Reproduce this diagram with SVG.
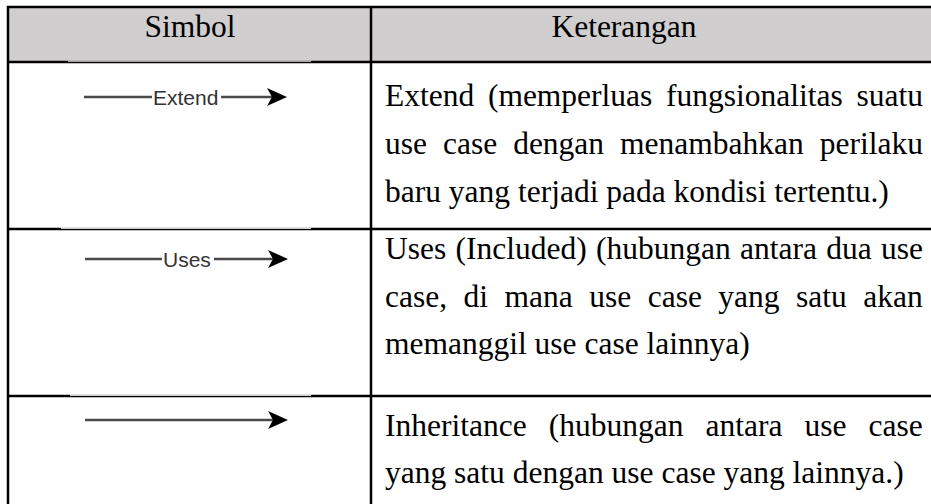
<svg xmlns="http://www.w3.org/2000/svg" width="931" height="504" viewBox="0 0 931 504">
<style>
.hdr{fill:#d0cece}
.b{stroke:#000;stroke-width:2.5;fill:none}
.t{font-family:"Liberation Serif","Times New Roman",serif;font-size:31.5px;fill:#000}
.h{text-anchor:middle}
.lbl{font-family:"Liberation Sans",Arial,sans-serif;font-size:21px;fill:#333}
.ln{stroke:#4a4a4a;stroke-width:2.6;fill:none}
.cover{fill:#fff}
.hcover{fill:#d0cece}
</style>
<defs>
<marker id="ah" markerUnits="userSpaceOnUse" viewBox="0 0 20 18" refX="15" refY="9" markerWidth="20" markerHeight="18" orient="auto">
<path d="M0,0 L20,9 L0,18 L5,9 Z" fill="#000"/>
</marker>
</defs>
<rect width="931" height="504" fill="#fff"/>
<g id="table">
<rect class="hdr" x="8" y="7" width="923" height="55"/>
<path class="b" d="M6.75,7 H931 M8,7 V504 M371,7 V504 M8,62 H931 M8,229 H931 M8,396 H931"/>
<rect class="hcover" x="68" y="60.5" width="243" height="1.3"/>
<rect class="cover" x="61" y="227.5" width="250" height="1.3"/>
<rect class="cover" x="70" y="394.5" width="241" height="1.3"/>
</g>
<g id="header">
<text class="t h" x="190" y="37">Simbol</text>
<text class="t h" x="624" y="37">Keterangan</text>
</g>
<g id="row-extend">
<text class="t" x="385" y="106" word-spacing="5.8">Extend (memperluas fungsionalitas suatu</text>
<text class="t" x="385" y="154" word-spacing="8.1">use case dengan menambahkan perilaku</text>
<text class="t" x="385" y="202">baru yang terjadi pada kondisi tertentu.)</text>
</g>
<g id="row-uses">
<text class="t" x="385" y="259" word-spacing="1.4">Uses (Included) (hubungan antara dua use</text>
<text class="t" x="385" y="307" word-spacing="8.6">case, di mana use case yang satu akan</text>
<text class="t" x="385" y="354">memanggil use case lainnya)</text>
</g>
<g id="row-inheritance">
<text class="t" x="385" y="436" word-spacing="14.2">Inheritance (hubungan antara use case</text>
<text class="t" x="385" y="483">yang satu dengan use case yang lainnya.)</text>
</g>
<g id="connectors">
<g id="sym-extend">
<path class="ln" d="M84,97 H152 M221,97 H282" marker-end="url(#ah)"/>
<text class="lbl" x="153" y="104.5">Extend</text>
</g>
<g id="sym-uses">
<path class="ln" d="M85,259 H162 M214,259 H283" marker-end="url(#ah)"/>
<text class="lbl" x="163" y="266.5">Uses</text>
</g>
<g id="sym-inheritance">
<path class="ln" d="M85,420 H283" marker-end="url(#ah)"/>
</g>
</g>
</svg>
